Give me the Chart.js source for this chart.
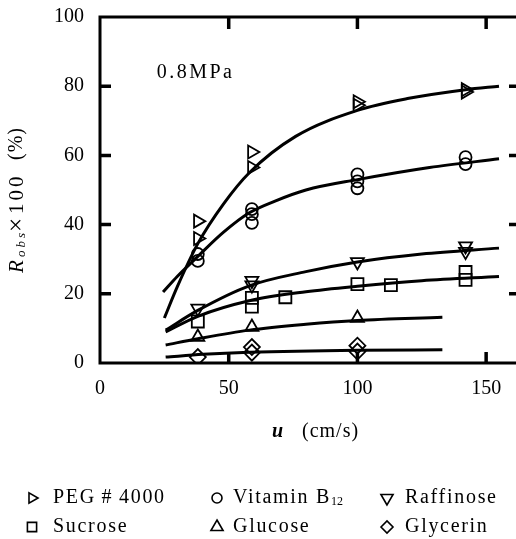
<!DOCTYPE html>
<html>
<head>
<meta charset="utf-8">
<script src="https://cdn.jsdelivr.net/npm/chart.js@4/dist/chart.umd.min.js"></script>
<style>
  html, body { margin: 0; padding: 0; background: #fff; overflow: hidden; }
  #wrap { width: 516px; height: 539px; position: relative; }
</style>
</head>
<body>
<div id="wrap"><canvas id="rejChart"></canvas></div>
<script>
// measured points (u in cm/s, Robs x 100 in %)
const pegU = [38, 38, 59, 59, 100, 100, 142, 142];
const pegR = [41, 36, 61, 56.5, 75.5, 74.5, 79, 78.3];
const b12U = [38, 38, 59, 59, 59, 100, 100, 100, 142, 142];
const b12R = [31.5, 29.5, 44.5, 43, 40.5, 54.5, 52.5, 50.5, 59.5, 57.5];
const raffU = [38, 59, 59, 100, 142, 142];
const raffR = [15.8, 23.8, 22.5, 29.2, 33.8, 32.2];
const sucU = [38, 59, 59, 72, 100, 113, 142, 142];
const sucR = [12, 18.8, 16.3, 19, 22.8, 22.5, 26.3, 24];
const gluU = [38, 59, 100];
const gluR = [7.5, 10.4, 13];
const glyU = [38, 59, 59, 100, 100];
const glyR = [1.7, 4.6, 3, 5, 3.3];

// fitted curves
const pegFitU = [25, 30, 38, 48, 58, 76, 100, 120, 142, 155];
const pegFitR = [13, 22, 34.5, 46, 55, 65.5, 73, 76.5, 79, 80];
const b12FitU = [24.5, 30, 38, 48, 58, 68, 80, 100, 128, 155];
const b12FitR = [20.5, 25, 30.8, 37.8, 43.4, 46.8, 50, 53, 56.5, 59];
const raffFitU = [25.5, 38, 58, 80, 100, 125, 155];
const raffFitR = [9.5, 15.2, 22.3, 26.4, 29.2, 31.5, 33.2];
const sucFitU = [25.5, 38, 58, 80, 100, 125, 155];
const sucFitR = [9, 13.5, 18, 20.6, 22.2, 23.8, 25];
const gluFitU = [25.5, 38, 58, 80, 100, 133];
const gluFitR = [5.2, 7, 9.5, 11.2, 12.3, 13.2];
const glyFitU = [25.5, 40, 58, 100, 133];
const glyFitR = [1.7, 2.5, 3.1, 3.7, 3.8];

const xTicks = [0, 50, 100, 150];
const yTicks = [0, 20, 40, 60, 80, 100];
const pressureLabel = "0.8MPa";
const xTitle = ["u", "(cm/s)"];

const SERIF = "'Liberation Serif', 'Times New Roman', serif";

const pts = (us, rs) => us.map((u, i) => ({ x: u, y: rs[i] }));

function markers(label, us, rs, style, rot, r) {
  return {
    label: label,
    data: pts(us, rs),
    showLine: false,
    pointStyle: style,
    rotation: rot,
    pointRadius: r,
    pointBorderWidth: 1.8,
    pointBorderColor: "#000",
    pointBackgroundColor: "rgba(0,0,0,0)"
  };
}

function curve(us, rs) {
  return {
    label: "",
    data: pts(us, rs),
    showLine: true,
    pointRadius: 0,
    borderColor: "#000",
    borderWidth: 3,
    cubicInterpolationMode: "monotone"
  };
}

const series = [
  markers("PEG\u2009#\u20094000", pegU, pegR, "triangle", 90, 7.5),
  markers("Vitamin B12", b12U, b12R, "circle", 0, 6),
  markers("Raffinose", raffU, raffR, "triangle", 180, 7.5),
  markers("Sucrose", sucU, sucR, "rect", 0, 8.5),
  markers("Glucose", gluU, gluR, "triangle", 0, 7.5),
  markers("Glycerin", glyU, glyR, "rectRot", 0, 8)
];
const legendSizes = [6, 5, 7, 6.5, 7, 6];

const fits = [
  curve(pegFitU, pegFitR),
  curve(b12FitU, b12FitR),
  curve(raffFitU, raffFitR),
  curve(sucFitU, sucFitR),
  curve(gluFitU, gluFitR),
  curve(glyFitU, glyFitR)
];

// frame, inward ticks, titles and the legend block
const decorPlugin = {
  id: "decor",
  afterDraw(chart) {
    const { ctx, chartArea: a } = chart;
    const x = chart.scales.x, y = chart.scales.y;
    ctx.save();
    ctx.strokeStyle = "#000";
    ctx.fillStyle = "#000";

    ctx.lineWidth = 3;
    ctx.beginPath();
    ctx.moveTo(a.right, a.top);
    ctx.lineTo(a.left, a.top);
    ctx.lineTo(a.left, a.bottom);
    ctx.lineTo(a.right, a.bottom);
    ctx.stroke();

    ctx.lineWidth = 3.5;
    ctx.beginPath();
    yTicks.slice(1, -1).forEach(v => {
      const py = y.getPixelForValue(v);
      ctx.moveTo(a.left, py); ctx.lineTo(a.left + 11, py);
      ctx.moveTo(a.right, py); ctx.lineTo(a.right - 7, py);
    });
    xTicks.slice(1).forEach(v => {
      const px = x.getPixelForValue(v);
      ctx.moveTo(px, a.top); ctx.lineTo(px, a.top + 12);
      ctx.moveTo(px, a.bottom); ctx.lineTo(px, a.bottom - 11);
    });
    ctx.stroke();

    // pressure note
    ctx.font = "20px " + SERIF;
    ctx.letterSpacing = "2.5px";
    ctx.textAlign = "left";
    ctx.textBaseline = "middle";
    ctx.fillText(pressureLabel, x.getPixelForValue(22), y.getPixelForValue(84));

    // x title
    const ty = a.bottom + 69;
    ctx.letterSpacing = "1px";
    ctx.font = "italic bold 20px " + SERIF;
    ctx.fillText(xTitle[0], 272, ty);
    ctx.font = "20px " + SERIF;
    ctx.fillText(xTitle[1], 302, ty);

    // y title, rotated; each piece starts at its own height
    ctx.save();
    ctx.translate(17, 0);
    ctx.rotate(-Math.PI / 2);
    const parts = [
      { t: "R", f: "italic 21px " + SERIF, at: 273, dy: 0, sp: "0px" },
      { t: "obs", f: "italic 13px " + SERIF, at: 257, dy: 5, sp: "3px" },
      { t: "\u00d7", f: "25px " + SERIF, at: 232, dy: 0, sp: "0px" },
      { t: "100", f: "21px " + SERIF, at: 214, dy: 0, sp: "3px" },
      { t: "(%)", f: "20px " + SERIF, at: 160, dy: 0, sp: "1px" }
    ];
    parts.forEach(p => {
      ctx.font = p.f;
      ctx.letterSpacing = p.sp;
      ctx.fillText(p.t, -p.at, p.dy);
    });
    ctx.restore();

    // legend
    const colX = [32, 217, 387];
    const textX = [53, 233, 405];
    const rowY = [498, 527];
    series.forEach((ds, i) => {
      const col = i % 3;
      const my = rowY[Math.floor(i / 3)];
      ctx.save();
      ctx.lineWidth = 1.6;
      ctx.strokeStyle = "#000";
      ctx.fillStyle = "rgba(0,0,0,0)";
      Chart.helpers.drawPoint(ctx, {
        pointStyle: ds.pointStyle, rotation: ds.rotation,
        radius: legendSizes[i], borderWidth: 1.6
      }, colX[col], my);
      ctx.restore();

      ctx.fillStyle = "#000";
      ctx.font = "20px " + SERIF;
      ctx.letterSpacing = "1.7px";
      const tx = textX[col];
      const m = ds.label.match(/^(.*B)(\d+)$/);
      if (m) {
        ctx.fillText(m[1], tx, my);
        const w = ctx.measureText(m[1]).width;
        ctx.font = "12px " + SERIF;
        ctx.letterSpacing = "0px";
        ctx.fillText(m[2], tx + w, my + 4);
      } else {
        ctx.fillText(ds.label, tx, my);
      }
    });
    ctx.restore();
  }
};

new Chart(document.getElementById("rejChart"), {
  type: "scatter",
  data: { datasets: fits.concat(series) },
  options: {
    responsive: true,
    maintainAspectRatio: false,
    animation: false,
    layout: { autoPadding: false, padding: { top: 17, right: 0, bottom: 86, left: 0 } },
    plugins: { legend: { display: false }, tooltip: { enabled: false } },
    scales: {
      x: {
        type: "linear",
        min: 0,
        max: 161.6,
        grid: { display: false, drawTicks: false },
        border: { display: false },
        afterBuildTicks: s => { s.ticks = xTicks.map(v => ({ value: v })); },
        afterFit: s => { s.height = 90; s.paddingLeft = 0; s.paddingRight = 0; },
        ticks: {
          color: "#000",
          padding: 14,
          maxRotation: 0,
          autoSkip: false,
          font: { family: SERIF, size: 20 }
        }
      },
      y: {
        min: 0,
        max: 100,
        grid: { display: false, drawTicks: false },
        border: { display: false },
        afterBuildTicks: s => { s.ticks = yTicks.map(v => ({ value: v })); },
        afterFit: s => { s.width = 100; s.paddingTop = 0; s.paddingBottom = 0; },
        ticks: {
          color: "#000",
          padding: 16,
          font: { family: SERIF, size: 20 }
        }
      }
    }
  },
  plugins: [decorPlugin]
});
</script>
</body>
</html>
